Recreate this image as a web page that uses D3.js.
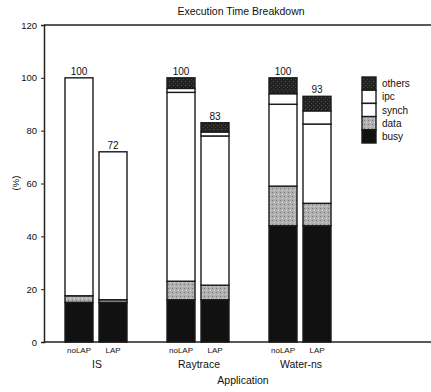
<!DOCTYPE html>
<html>
<head>
<meta charset="utf-8">
<script src="https://cdn.jsdelivr.net/npm/d3@7"></script>
<style>
  body { margin: 0; background: #fff; }
  text { font-family: "Liberation Sans", Arial, sans-serif; fill: #111; }
</style>
</head>
<body>
<script>
// values (percent of noLAP time)
var apps = ['IS', 'Raytrace', 'Water-ns'];
var versions = ['noLAP', 'LAP'];
var parts = ['busy', 'data', 'synch', 'ipc', 'others'];
var busy   = [15, 15, 16, 16, 44, 44];
var data   = [2.5, 1, 7, 5.5, 15, 8.5];
var synch  = [82.5, 56, 71.5, 56.5, 31, 30];
var ipc    = [0, 0, 1.5, 1.5, 4, 5];
var others = [0, 0, 4, 3.5, 6, 5.5];
var totals = [100, 72, 100, 83, 100, 93];
var yTicks = [0, 20, 40, 60, 80, 100, 120];

var svg = d3.select('body').append('svg')
    .attr('width', 431)
    .attr('height', 392);

var defs = svg.append('defs');
var pd = defs.append('pattern').attr('id', 'pdata')
    .attr('width', 4).attr('height', 4).attr('patternUnits', 'userSpaceOnUse');
pd.append('rect').attr('width', 4).attr('height', 4).attr('fill', '#b0b0b0');
pd.append('rect').attr('x', 0).attr('y', 0).attr('width', 1).attr('height', 1).attr('fill', '#777');
pd.append('rect').attr('x', 2).attr('y', 2).attr('width', 1).attr('height', 1).attr('fill', '#ddd');
var po = defs.append('pattern').attr('id', 'pothers')
    .attr('width', 4).attr('height', 4).attr('patternUnits', 'userSpaceOnUse');
po.append('rect').attr('width', 4).attr('height', 4).attr('fill', '#222');
po.append('rect').attr('x', 1).attr('y', 1).attr('width', 1).attr('height', 1).attr('fill', '#555');
po.append('rect').attr('x', 3).attr('y', 3).attr('width', 1).attr('height', 1).attr('fill', '#444');

var fills = {busy: '#111', data: 'url(#pdata)', synch: '#fff', ipc: '#fff', others: 'url(#pothers)'};
var series = {busy: busy, data: data, synch: synch, ipc: ipc, others: others};

var y = d3.scaleLinear().domain([0, 120]).range([342, 25]);
var x0 = d3.scaleBand().domain(apps).range([46, 352]);
var x1 = d3.scaleBand().domain(versions).range([19, 81]).paddingInner(6 / 34);

// frame
svg.append('line').attr('x1', 44).attr('x2', 431).attr('y1', y(120)).attr('y2', y(120))
    .attr('stroke', '#222').attr('stroke-width', 1.5);
svg.append('line').attr('x1', 44).attr('x2', 431).attr('y1', y(0)).attr('y2', y(0))
    .attr('stroke', '#222').attr('stroke-width', 1.5);

var yAxis = svg.append('g').attr('transform', 'translate(44,0)')
    .call(d3.axisLeft(y).tickValues(yTicks).tickSize(3).tickPadding(4));
yAxis.select('.domain').attr('stroke', '#222').attr('stroke-width', 1.5);
yAxis.selectAll('.tick line').attr('stroke', '#222');
yAxis.selectAll('text').attr('font-size', 9.5).attr('fill', '#111')
    .style('font-family', '"Liberation Sans", Arial, sans-serif');

// bars
var rows = [];
apps.forEach(function(a, i) {
    versions.forEach(function(v, j) {
        var k = i * 2 + j, base = 0;
        parts.forEach(function(p) {
            var val = series[p][k];
            if (val > 0) rows.push({app: a, ver: v, part: p, y0: base, y1: base + val});
            base += val;
        });
    });
});

svg.append('g').selectAll('rect').data(rows).enter().append('rect')
    .attr('x', function(d) { return x0(d.app) + x1(d.ver); })
    .attr('width', x1.bandwidth())
    .attr('y', function(d) { return y(d.y1); })
    .attr('height', function(d) { return y(d.y0) - y(d.y1); })
    .attr('fill', function(d) { return fills[d.part]; })
    .attr('stroke', '#1a1a1a')
    .attr('stroke-width', 1.4);

// totals, version labels
apps.forEach(function(a, i) {
    versions.forEach(function(v, j) {
        var cx = x0(a) + x1(v) + x1.bandwidth() / 2;
        svg.append('text').attr('x', cx).attr('y', y(totals[i * 2 + j]) - 3)
            .attr('text-anchor', 'middle').attr('font-size', 10)
            .text(totals[i * 2 + j]);
        svg.append('text').attr('x', cx).attr('y', 353)
            .attr('text-anchor', 'middle').attr('font-size', 8)
            .text(v);
    });
    svg.append('text').attr('x', x0(a) + x0.bandwidth() / 2).attr('y', 368)
        .attr('text-anchor', 'middle').attr('font-size', 10.5)
        .text(a);
});

svg.append('text').attr('x', 243).attr('y', 384)
    .attr('text-anchor', 'middle').attr('font-size', 10.5).text('Application');
svg.append('text').attr('x', 241).attr('y', 15)
    .attr('text-anchor', 'middle').attr('font-size', 10.5).text('Execution Time Breakdown');
svg.append('text').attr('transform', 'translate(19,183) rotate(-90)')
    .attr('text-anchor', 'middle').attr('font-size', 9.5).text('(%)');

// legend (top to bottom: others, ipc, synch, data, busy)
var legendItems = parts.slice().reverse();
var ly = d3.scaleBand().domain(legendItems).range([77, 143]);
var lg = svg.append('g');
lg.selectAll('rect').data(legendItems).enter().append('rect')
    .attr('x', 362).attr('width', 14)
    .attr('y', function(d) { return ly(d); })
    .attr('height', ly.bandwidth())
    .attr('fill', function(d) { return fills[d]; })
    .attr('stroke', '#1a1a1a').attr('stroke-width', 1.4);
lg.selectAll('text').data(legendItems).enter().append('text')
    .attr('x', 382)
    .attr('y', function(d) { return ly(d) + ly.bandwidth() / 2 + 3.5; })
    .attr('font-size', 10)
    .text(function(d) { return d; });
</script>
</body>
</html>
